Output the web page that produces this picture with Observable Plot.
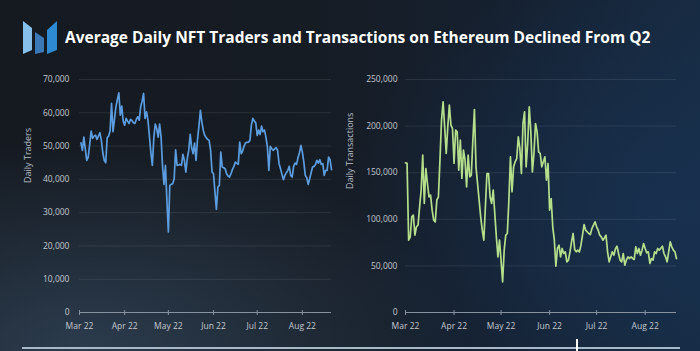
<!DOCTYPE html>
<html>
<head>
<meta charset="utf-8">
<script src="https://cdn.jsdelivr.net/npm/d3@7"></script>
<script src="https://cdn.jsdelivr.net/npm/@observablehq/plot@0.6"></script>
<style>
  html, body { margin: 0; padding: 0; background: #161b22; }
  #root {
    position: relative; width: 700px; height: 351px; overflow: hidden;
    font-family: "Open Sans", sans-serif;
    background:
      radial-gradient(ellipse 55% 60% at 12% 100%, rgba(62, 88, 114, 0.55), rgba(62, 88, 114, 0) 100%),
      radial-gradient(ellipse 45% 70% at 95% 60%, rgba(24, 52, 86, 0.7), rgba(24, 52, 86, 0) 100%),
      linear-gradient(90deg, #151a21 0%, #161c24 45%, #15202f 70%, #172a40 100%);
  }
  #logo { position: absolute; left: 23px; top: 21px; }
  #title { position: absolute; left: 65px; top: 26px; font-weight: 700; font-size: 15.5px; color: #ffffff; white-space: nowrap; }
  #left { position: absolute; left: 0; top: 0; }
  #right { position: absolute; left: 350px; top: 0; }
  #bar { position: absolute; left: 22px; top: 347px; width: 658px; height: 2px; background: #a7b9c8; }
  #knob { position: absolute; left: 576px; top: 339px; width: 2px; height: 12px; background: #ffffff; }
</style>
</head>
<body>
<div id="root">
  <svg id="logo" width="34" height="34" viewBox="0 0 34 34">
    <polygon points="0,0 9,7 9,29 0,33" fill="#86c0ea"/>
    <polygon points="12,11 21,17 21,31 12,33" fill="#3b78b6"/>
    <polygon points="24,9 34,0 34,29 24,33" fill="#2f8ad4"/>
  </svg>
  <div id="title">Average Daily NFT Traders and Transactions on Ethereum Declined From Q2</div>
  <div id="left"></div>
  <div id="right"></div>
  <div id="bar"></div>
  <div id="knob"></div>
</div>
<script>
// ---- data ----
const tradersStart = "2022-03-02";
const transactionsStart = "2022-03-01";
const xDomain = ["2022-03-01", "2022-08-21"];
const monthTicks = ["2022-03-01", "2022-04-01", "2022-05-01", "2022-06-01", "2022-07-01", "2022-08-01"];
const tradersTicks = [0, 10000, 20000, 30000, 40000, 50000, 60000, 70000];
const transactionsTicks = [0, 50000, 100000, 150000, 200000, 250000];

const traders = [
  51000, 48700, 52700, 49000, 45700, 46700, 50500, 54500, 52300, 53000,
  53300, 52000, 53000, 54000, 51700, 48000, 45700, 45000, 52500, 53000,
  54500, 62800, 54300, 58000, 61800, 64000, 66000, 59300, 62000, 57500,
  56300, 58300, 57500, 56800, 58000, 57700, 57000, 56800, 58000, 58800,
  57800, 61800, 63500, 65800, 58300, 60300, 57800, 53000, 48000, 44200,
  52300, 56600, 55300, 52700, 56600, 52700, 44000, 38500, 44200, 33700,
  24200, 38200, 38500, 38700, 40200, 48900, 44200, 44300, 44500, 44200,
  47500, 45700, 42200, 46200, 48700, 53500, 49500, 47700, 50900, 45700,
  51900, 56000, 60700, 57200, 54700, 53200, 52500, 52000, 51700, 48700,
  42200, 41700, 36000, 31000, 37700, 38200, 48200, 43700, 43500, 43200,
  41700, 41000, 40700, 41700, 43000, 43900, 45200, 44800, 44500, 51200,
  47700, 48500, 50000, 51000, 51100, 51200, 51700, 56300, 58300, 57500,
  57000, 53200, 54800, 53500, 56000, 54300, 54800, 52700, 49700, 42700,
  49900, 49200, 48700, 49200, 49500, 48700, 44700, 43200, 41500, 39900,
  41200, 42000, 42700, 43900, 41200, 40700, 43900, 44900, 44500, 46500,
  48000, 50200, 48200, 45200, 41200, 40500, 38500, 40200, 42000, 43700,
  43900, 44500, 45700, 44900, 45900, 44500, 44700, 41200, 42700, 42700,
  46700, 45900, 42900
];

const transactions = [
  160600, 160000, 77600, 81000, 102600, 104400, 83000, 92000, 93700, 113400,
  131300, 168800, 117000, 154500, 138400, 124000, 125900, 109800, 99000, 97300,
  120500, 124000, 163400, 206400, 226000, 199200, 170600, 199200, 222500, 201000,
  197400, 159900, 195600, 193800, 152700, 184900, 143800, 174200, 163400, 134800,
  168800, 145600, 147400, 184900, 217800, 156300, 138400, 120500, 102600, 88300,
  77600, 113400, 149100, 149100, 124000, 117000, 131300, 106200, 81200, 59700,
  77600, 56200, 32900, 66900, 83000, 84800, 120500, 167000, 129500, 156300,
  161700, 165200, 188500, 176000, 149100, 202800, 215300, 156300, 181300, 220700,
  193800, 150900, 170600, 202800, 193800, 172400, 170600, 156300, 161700, 167000,
  142000, 159900, 109800, 122300, 91900, 78000, 49700, 68700, 72200, 59700,
  68700, 63300, 65100, 54400, 56200, 65100, 75800, 84800, 67600, 65100,
  66900, 65100, 72200, 83000, 94400, 88300, 86600, 84800, 83700, 90100,
  93700, 97300, 91900, 88300, 83000, 81200, 77600, 80000, 83000, 65100,
  54400, 59700, 65100, 61500, 68200, 71200, 63300, 56200, 54400, 63300,
  50800, 56200, 59700, 57900, 59700, 58000, 56900, 70500, 63300, 68700,
  61500, 66900, 74000, 68700, 64000, 65100, 52600, 57900, 56200, 65100,
  63300, 68700, 66900, 69000, 71200, 63300, 59700, 54400, 65100, 75800,
  70500, 66900, 65100, 57900
];

// ---- build rows ----
const toRows = (start, values) => {
  const s = new Date(start + "T00:00:00Z");
  return values.map((v, i) => ({date: d3.utcDay.offset(s, i), value: v}));
};
const domain = xDomain.map(d => new Date(d + "T00:00:00Z"));
const months = monthTicks.map(d => new Date(d + "T00:00:00Z"));
const fmtMonth = d3.utcFormat("%b %y");
const fmtNum = d3.format(",");

function panel({rows, yTicks, color, label, ml, mr, yPad, labelDx, labelDy}) {
  return Plot.plot({
    width: 350,
    height: 351,
    marginTop: 79,
    marginBottom: 39,
    marginLeft: ml,
    marginRight: mr,
    style: {background: "transparent", color: "#c2c8cf", fontFamily: "'Open Sans', sans-serif", fontSize: "8.5px", overflow: "visible"},
    x: {type: "utc", domain},
    y: {domain: [0, yTicks[yTicks.length - 1]]},
    marks: [
      Plot.gridY(yTicks, {stroke: "#ffffff", strokeOpacity: 0.09}),
      Plot.ruleY([0], {stroke: "#8692a0", strokeWidth: 1}),
      Plot.axisY(yTicks, {tickSize: 0, tickPadding: yPad, tickFormat: fmtNum, label: null}),
      Plot.axisX(months, {tickSize: 5, dy: -2, tickFormat: () => "", stroke: "#8692a0", label: null}),
      Plot.axisX(months, {tickSize: 0, tickPadding: 10, tickFormat: fmtMonth, label: null}),
      Plot.text([label], {text: d => d, frameAnchor: "left", rotate: -90, dx: labelDx, dy: labelDy, fill: "#b8bfc7", fontSize: 9}),
      Plot.line(rows, {x: "date", y: "value", stroke: color, strokeWidth: 1.7})
    ]
  });
}

document.getElementById("left").append(panel({
  rows: toRows(tradersStart, traders),
  yTicks: tradersTicks,
  color: "#5b9de0",
  label: "Daily Traders",
  ml: 79, mr: 19, yPad: 10, labelDx: -51, labelDy: -13
}));

document.getElementById("right").append(panel({
  rows: toRows(transactionsStart, transactions),
  yTicks: transactionsTicks,
  color: "#b6df8c",
  label: "Daily Transactions",
  ml: 55, mr: 24, yPad: 8, labelDx: -55, labelDy: -7
}));
</script>
</body>
</html>
